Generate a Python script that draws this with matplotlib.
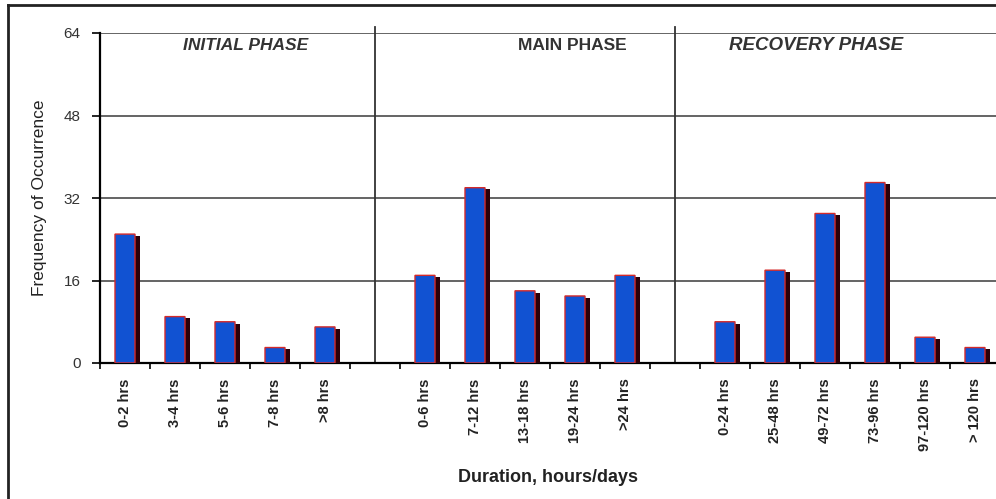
import numpy as np
import matplotlib.pyplot as plt
from matplotlib.lines import Line2D

plt.rcParams['font.family'] = ['Liberation Sans', 'DejaVu Sans']

# Data
initial_labels = ['0-2 hrs', '3-4 hrs', '5-6 hrs', '7-8 hrs', '>8 hrs']
initial_values = [25, 9, 8, 3, 7]
main_labels = ['0-6 hrs', '7-12 hrs', '13-18 hrs', '19-24 hrs', '>24 hrs']
main_values = [17, 34, 14, 13, 17]
recovery_labels = ['0-24 hrs', '25-48 hrs', '49-72 hrs', '73-96 hrs', '97-120 hrs', '> 120 hrs']
recovery_values = [8, 18, 29, 35, 5, 3]
phase_names = ['INITIAL PHASE', 'MAIN PHASE', 'RECOVERY PHASE']

# slot positions, one empty slot between phases
pos_initial = np.arange(len(initial_labels))
pos_main = pos_initial[-1] + 2 + np.arange(len(main_labels))
pos_recovery = pos_main[-1] + 2 + np.arange(len(recovery_labels))
positions = np.concatenate([pos_initial, pos_main, pos_recovery])
values = initial_values + main_values + recovery_values
labels = initial_labels + main_labels + recovery_labels
n_slots = positions[-1] + 1

fig = plt.figure(figsize=(9.96, 4.99), dpi=100)
ax = fig.add_axes([100 / 996, 1 - 363 / 499, 900 / 996, 330 / 499])

# bars with a dark side shadow
bw = 0.4
ax.bar(positions + 0.1, np.array(values) - 0.35, width=bw, color='#2a0008', zorder=3)
ax.bar(positions, values, width=bw, color='#1152d2', edgecolor='#d42a2a', linewidth=1.0,
       snap=False, zorder=4)

ax.set_xlim(-0.5, n_slots - 0.5)
ax.set_ylim(0, 64)
ax.set_yticks([0, 16, 32, 48, 64])
ax.set_yticklabels(['0', '16', '32', '48', '64'], fontsize=11, color='#333333')
ax.yaxis.grid(True, color='#3a3a3a', linewidth=1.1, zorder=1)
ax.set_axisbelow(True)

ax.set_xticks(positions)
ax.set_xticklabels(labels, rotation=90, fontsize=10.5, fontweight='bold', color='#222222')
ax.set_xticks(np.arange(-0.5, n_slots, 1.0), minor=True)
ax.tick_params(axis='x', which='major', length=0, pad=11)
ax.tick_params(axis='x', which='minor', length=4, width=1.2, direction='out')
ax.tick_params(axis='y', length=6, width=1.2, pad=8)

for side in ['top', 'right']:
    ax.spines[side].set_visible(False)
ax.spines['left'].set_linewidth(1.6)
ax.spines['bottom'].set_linewidth(1.6)

# phase separators
for sep in [pos_initial[-1] + 1, pos_main[-1] + 1]:
    ax.plot([sep, sep], [0, 65.2], color='#333333', linewidth=1.3, clip_on=False, zorder=2)

# phase titles
ax.text(2.42, 61.6, phase_names[0], ha='center', va='center', fontsize=12.5,
        fontweight='bold', fontstyle='italic', color='#333333')
ax.text(8.94, 61.6, phase_names[1], ha='center', va='center', fontsize=12.5,
        fontweight='bold', color='#333333')
ax.text(13.82, 61.6, phase_names[2], ha='center', va='center', fontsize=13.5,
        fontweight='bold', fontstyle='italic', color='#333333')

ax.set_ylabel('Frequency of Occurrence', fontsize=12.5, labelpad=12, color='#222222')
fig.text(548 / 996, 1 - 477 / 499, 'Duration, hours/days', ha='center', va='center',
         fontsize=13, fontweight='bold', color='#222222')

# outer frame
fig.add_artist(Line2D([8 / 996, 1.0], [1 - 5 / 499, 1 - 5 / 499], color='#222222', linewidth=2))
fig.add_artist(Line2D([8 / 996, 8 / 996], [0, 1 - 5 / 499], color='#222222', linewidth=2))

fig.savefig('out.png', dpi=100)
